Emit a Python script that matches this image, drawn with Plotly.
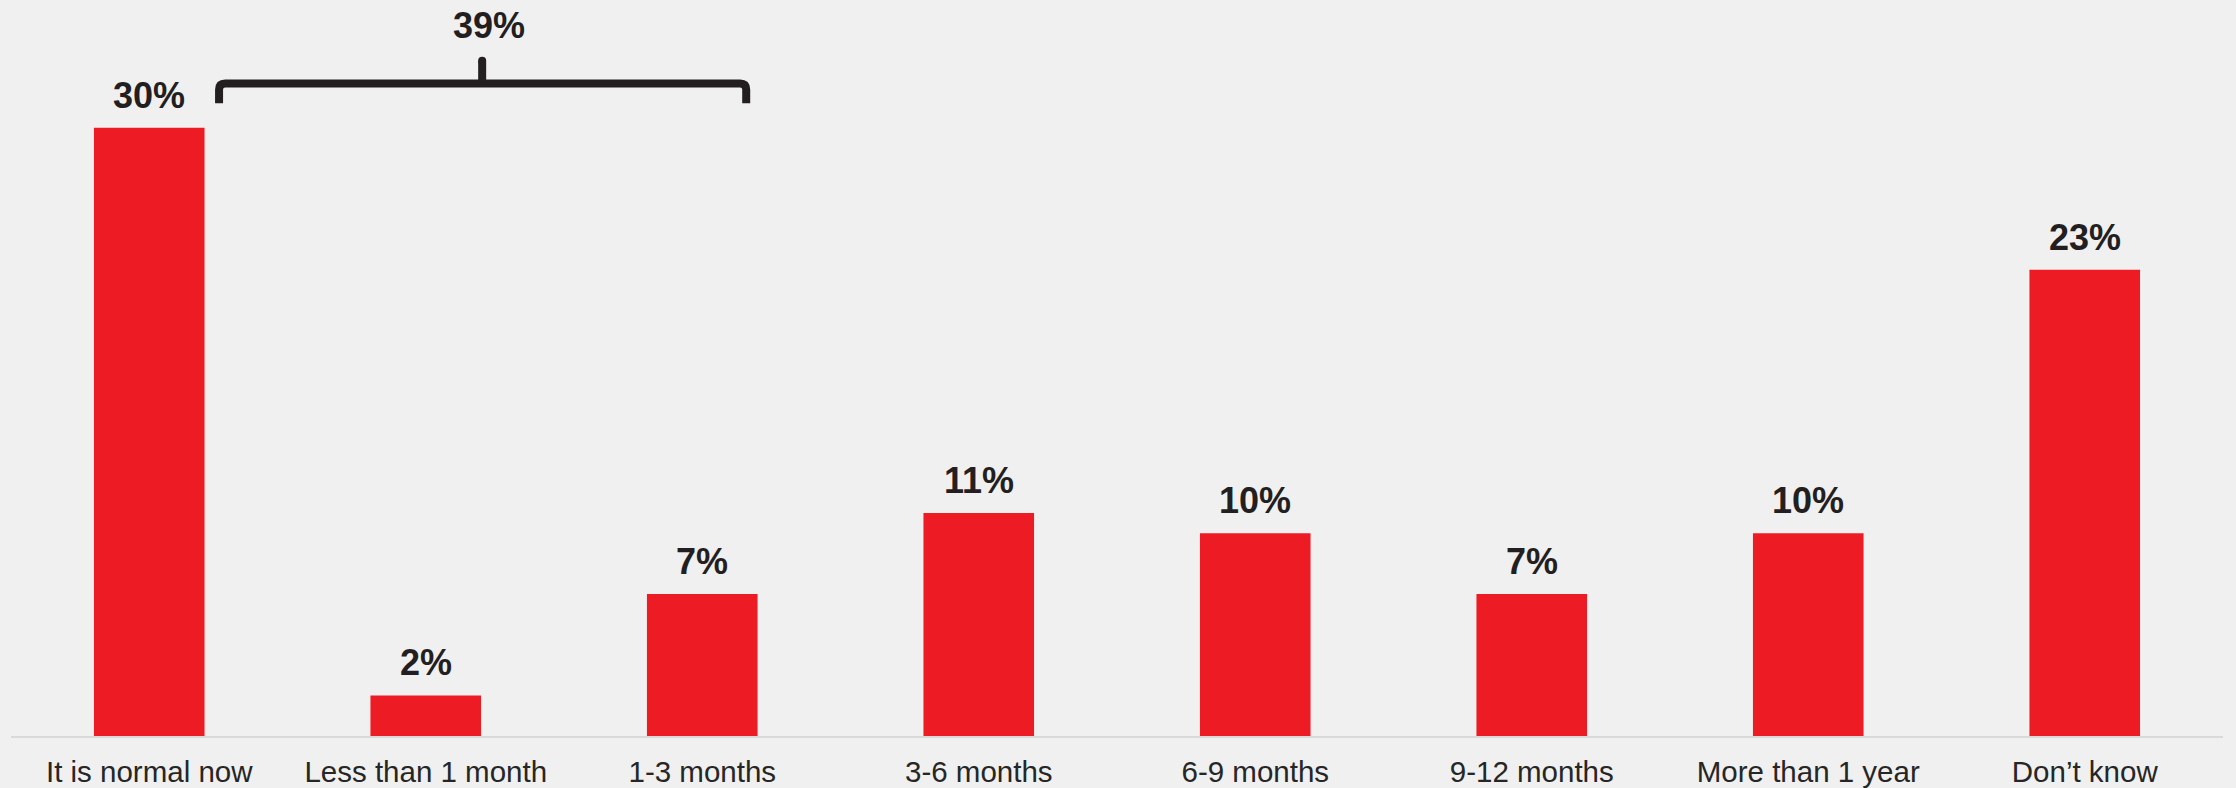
import plotly.graph_objects as go

# Survey answers and their shares (%)
categories = ["It is normal now", "Less than 1 month", "1-3 months", "3-6 months",
              "6-9 months", "9-12 months", "More than 1 year", "Don\u2019t know"]
shares = [30, 2, 7, 11, 10, 7, 10, 23]
value_labels = [f"{v}%" for v in shares]

# Answers grouped under the brace (first three answers)
group_idx = [0, 1, 2]
group_label = f"{sum(shares[i] for i in group_idx)}%"

BG = "#F0F0F0"
RED = "#ED1C24"
INK = "#231F20"
FONT = "Liberation Sans, Arial, sans-serif"

W, H = 2236, 788
M_L, M_R, M_T, M_B = 11, 13, 0, 52
Y_MAX = 36.3

fig = go.Figure()
fig.add_trace(go.Bar(
    x=list(range(len(categories))),
    y=shares,
    marker=dict(color=RED, line=dict(width=0)),
    hoverinfo="skip",
))

# Value labels above each bar
for i, (v, t) in enumerate(zip(shares, value_labels)):
    fig.add_annotation(
        x=i, y=v, text=f"<b>{t}</b>", showarrow=False,
        xanchor="center", yanchor="bottom", yshift=10,
        font=dict(family=FONT, size=36, color=INK),
    )

# Brace over the grouped answers
x0, x1, xm = 0.2525, 2.159, 1.204
y_end, y_bar, y_tip = 31.21, 32.18, 33.3
rx, ry = 0.022, 0.3
brace = (f"M {x0},{y_end} L {x0},{y_bar - ry} Q {x0},{y_bar} {x0 + rx},{y_bar} "
         f"L {x1 - rx},{y_bar} Q {x1},{y_bar} {x1},{y_bar - ry} L {x1},{y_end}")
fig.add_shape(type="path", path=brace, xref="x", yref="y",
              line=dict(color=INK, width=8), fillcolor="rgba(0,0,0,0)")
fig.add_shape(type="line", x0=xm, x1=xm, y0=y_bar, y1=y_tip, xref="x", yref="y",
              line=dict(color=INK, width=8))
fig.add_shape(type="circle", xref="x", yref="y",
              x0=xm - 0.0145, x1=xm + 0.0145, y0=y_tip - 0.197, y1=y_tip + 0.197,
              line=dict(width=0), fillcolor=INK)
fig.add_annotation(
    x=1.229, y=y_tip, text=f"<b>{group_label}</b>", showarrow=False,
    xanchor="center", yanchor="bottom", yshift=13,
    font=dict(family=FONT, size=36, color=INK),
)

fig.update_layout(
    width=W, height=H,
    margin=dict(l=M_L, r=M_R, t=M_T, b=M_B, autoexpand=False),
    paper_bgcolor=BG, plot_bgcolor=BG,
    bargap=0.6, showlegend=False,
    xaxis=dict(
        tickmode="array", tickvals=list(range(len(categories))), ticktext=categories,
        range=[-0.5, len(categories) - 0.5],
        showgrid=False, zeroline=False, ticks="",
        showline=True, linecolor="#D9D9D9", linewidth=2,
        tickfont=dict(family=FONT, size=29.5, color="#262626"),
        ticklabelstandoff=9,
        automargin=False, fixedrange=True,
    ),
    yaxis=dict(range=[0, Y_MAX], visible=False, fixedrange=True),
)

fig.write_html("out.html", config={"displayModeBar": False})
